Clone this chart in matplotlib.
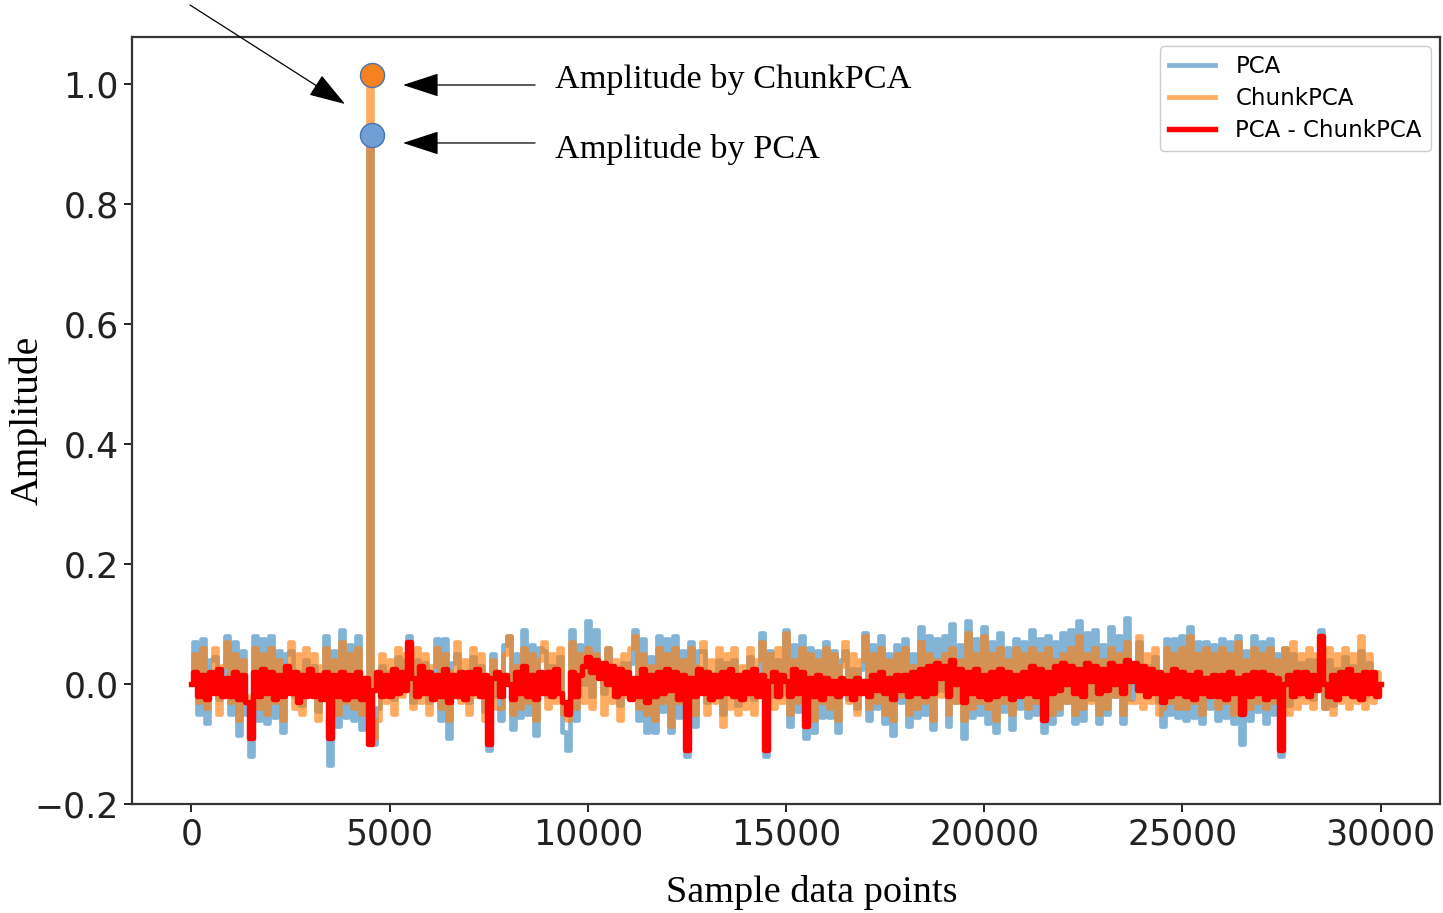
"""
Amplitude of PCA vs ChunkPCA reconstruction over the sample data points,
with the difference trace and callouts for the peak amplitudes.
"""

import numpy as np
import matplotlib
matplotlib.use("Agg")
import matplotlib.pyplot as plt

# sample index step between the values below
step = 100

# ChunkPCA amplitude, one value every 100 samples (0 .. 30000)
chunk_pca = [
    0.0, 0.05, -0.03, 0.06, -0.04, 0.02, 0.06, -0.05, 0.03, 0.07,
    -0.03, 0.05, -0.06, 0.04, -0.02, -0.03, 0.06, -0.04, 0.05, -0.05,
    0.06, -0.03, 0.04, -0.06, 0.02, 0.07, -0.04, 0.05, -0.05, 0.06,
    -0.02, 0.05, -0.06, 0.03, 0.06, -0.045, 0.04, -0.05, 0.07, -0.03,
    0.05, -0.04, 0.06, -0.05, 0.0, 1.015, -0.09, -0.06, 0.05, -0.03,
    0.04, -0.05, 0.06, -0.02, 0.05, 0.01, -0.04, 0.06, -0.03, 0.05,
    -0.05, 0.03, 0.06, -0.04, 0.05, -0.06, 0.02, 0.07, -0.03, 0.04,
    -0.05, 0.06, -0.02, 0.05, -0.06, -0.01, 0.04, -0.04, -0.04, 0.05,
    0.08, -0.05, 0.03, -0.04, 0.06, -0.03, 0.05, -0.06, 0.04, 0.07,
    -0.04, 0.05, -0.03, 0.06, -0.05, -0.06, 0.07, -0.04, 0.05, -0.03,
    0.06, -0.04, 0.05, 0.02, -0.05, 0.06, -0.03, 0.04, -0.06, 0.05,
    -0.02, 0.06, 0.08, -0.04, 0.05, -0.05, 0.03, -0.06, 0.06, -0.03,
    0.05, -0.07, 0.06, -0.03, 0.04, -0.01, 0.06, -0.05, 0.03, 0.07,
    -0.05, 0.04, -0.03, 0.06, -0.07, 0.05, -0.04, 0.06, -0.05, 0.03,
    -0.04, 0.06, -0.05, 0.04, 0.07, -0.01, 0.05, -0.04, 0.06, -0.03,
    0.085, -0.05, 0.04, -0.03, 0.06, -0.02, 0.05, -0.06, 0.04, -0.03,
    0.06, -0.04, 0.05, -0.06, 0.03, 0.07, -0.03, 0.05, -0.05, 0.04,
    0.08, -0.04, 0.05, -0.03, 0.06, -0.05, 0.04, -0.06, 0.05, -0.02,
    0.06, -0.05, 0.03, -0.04, 0.07, -0.03, 0.05, -0.06, 0.04, -0.02,
    0.05, -0.05, 0.06, -0.03, 0.04, -0.06, 0.085, -0.04, 0.05, -0.03,
    0.08, -0.04, 0.05, -0.06, 0.06, -0.03, 0.04, -0.05, 0.06, -0.02,
    0.05, -0.04, 0.06, -0.03, 0.05, -0.02, 0.06, -0.05, 0.04, -0.04,
    0.05, -0.03, 0.06, -0.05, 0.08, -0.04, 0.05, -0.03, 0.06, -0.05,
    0.04, -0.04, 0.06, -0.02, 0.05, -0.05, 0.07, -0.03, -0.03, 0.08,
    -0.04, 0.05, -0.03, 0.06, -0.05, -0.04, 0.06, -0.03, 0.05, -0.04,
    0.06, -0.04, 0.08, -0.03, 0.05, -0.05, 0.06, -0.02, 0.05, -0.04,
    0.06, -0.03, 0.05, -0.05, 0.07, -0.05, 0.04, -0.04, 0.06, -0.03,
    0.05, -0.04, 0.06, -0.03, 0.04, -0.01, 0.06, -0.05, 0.07, -0.04,
    0.05, -0.03, 0.06, -0.04, 0.05, 0.01, -0.04, 0.06, -0.05, 0.05,
    -0.03, 0.06, -0.04, 0.05, -0.03, 0.08, -0.04, 0.05, -0.03, 0.02,
    0.0,
]

# PCA - ChunkPCA difference, same sampling
diff = [
    0.0, 0.02, -0.02, 0.015, -0.025, 0.02, -0.015, 0.025, -0.02, 0.01,
    -0.02, 0.02, -0.025, 0.015, -0.03, -0.09, 0.02, -0.02, 0.025, -0.015,
    0.02, -0.025, 0.015, -0.02, 0.03, -0.015, 0.02, -0.03, 0.015, -0.02,
    0.025, -0.02, 0.015, -0.025, 0.02, -0.09, 0.015, -0.02, 0.02, -0.025,
    0.015, -0.02, 0.02, -0.025, 0.01, -0.10, -0.01, 0.02, -0.02, 0.015,
    -0.02, 0.025, -0.015, 0.02, -0.01, 0.07, 0.01, -0.02, 0.03, -0.015,
    0.02, -0.025, 0.015, -0.02, 0.025, -0.03, 0.015, -0.02, 0.02, -0.025,
    0.02, -0.015, 0.025, -0.02, 0.015, -0.10, 0.01, 0.02, -0.02, 0.015,
    0.0, -0.025, 0.02, -0.015, 0.03, -0.02, 0.015, -0.025, 0.02, -0.015,
    0.02, -0.02, 0.025, -0.015, -0.03, -0.05, 0.02, -0.02, 0.015, 0.03,
    0.045, 0.02, 0.04, 0.01, 0.035, 0.0, 0.03, -0.02, 0.025, -0.015,
    0.02, -0.025, 0.01, -0.02, 0.025, -0.03, 0.015, -0.02, 0.02, -0.015,
    0.025, -0.01, 0.02, -0.025, 0.015, -0.11, 0.01, -0.02, 0.025, -0.015,
    0.02, -0.025, 0.015, -0.02, 0.02, -0.015, 0.025, -0.02, 0.015, -0.025,
    0.02, -0.015, 0.025, -0.02, 0.015, -0.11, 0.005, 0.02, -0.02, 0.015,
    0.005, -0.02, 0.025, -0.015, 0.02, -0.07, 0.01, -0.02, 0.015, -0.025,
    0.01, -0.015, 0.005, -0.02, 0.01, -0.015, 0.005, -0.025, 0.01, -0.015,
    0.005, -0.02, 0.015, -0.01, 0.02, -0.015, 0.01, -0.025, 0.015, -0.01,
    0.015, -0.02, 0.02, -0.015, 0.025, -0.02, 0.03, -0.015, 0.035, 0.01,
    0.03, -0.02, 0.04, 0.0, 0.025, -0.03, 0.02, -0.015, 0.025, -0.02,
    0.015, -0.025, 0.02, -0.02, 0.025, -0.015, 0.02, -0.025, 0.015, -0.02,
    0.02, -0.015, 0.03, -0.02, 0.025, -0.06, 0.02, -0.015, 0.03, -0.01,
    0.035, 0.0, 0.03, -0.015, 0.025, -0.02, 0.035, 0.005, 0.03, -0.015,
    0.025, -0.01, 0.035, 0.0, 0.03, -0.015, 0.04, 0.005, 0.035, -0.01,
    0.03, -0.02, 0.025, -0.015, 0.02, -0.03, 0.015, -0.02, 0.025, -0.015,
    0.02, -0.02, 0.015, -0.025, 0.02, -0.015, 0.01, -0.02, 0.015, -0.02,
    0.015, -0.025, 0.02, -0.015, 0.01, -0.05, 0.015, -0.02, 0.02, -0.015,
    0.02, -0.025, 0.015, -0.02, 0.01, -0.11, 0.0, 0.015, -0.02, 0.02,
    -0.015, 0.02, -0.02, 0.015, -0.01, 0.08, 0.0, -0.02, 0.015, -0.025,
    0.02, -0.015, 0.025, -0.02, 0.015, -0.025, 0.02, -0.015, 0.02, -0.02,
    0.0,
]

x_ticks = [0, 5000, 10000, 15000, 20000, 25000, 30000]
y_ticks = [-0.2, 0.0, 0.2, 0.4, 0.6, 0.8, 1.0]

chunk_pca = np.array(chunk_pca)
diff = np.array(diff)
pca = chunk_pca + diff
samples = np.arange(len(chunk_pca)) * step

serif = ["Liberation Serif", "DejaVu Serif"]

fig = plt.figure(figsize=(14.43, 9.13), dpi=100)
ax = fig.add_axes([0.0915, 0.1194, 0.9064, 0.8401])

ax.plot(samples, pca, color="#1f77b4", alpha=0.55, lw=3.4,
        drawstyle="steps-mid", label="PCA")
ax.plot(samples, chunk_pca, color="#ff7f0e", alpha=0.65, lw=3.4,
        drawstyle="steps-mid", label="ChunkPCA")
ax.plot(samples, diff, color="red", lw=3.9, drawstyle="steps-mid",
        label="PCA - ChunkPCA")

ax.set_xlim(-1500, 31500)
ax.set_ylim(-0.2, 1.078)
ax.set_xticks(x_ticks)
ax.set_yticks(y_ticks)
ax.tick_params(labelsize=25, length=6, width=1.4, colors="#222222")
for sp in ax.spines.values():
    sp.set_linewidth(1.6)
    sp.set_color("#333333")

ax.set_xlabel("Sample data points", fontsize=27.5, family=serif, va="center")
ax.xaxis.set_label_coords(0.52, -0.116)
ax.set_ylabel("Amplitude", fontsize=28.5, family=serif, va="center")
ax.yaxis.set_label_coords(-0.0795, 0.5)

leg = ax.legend(loc="upper right", fontsize=16.5, handlelength=2.0,
                handletextpad=0.9, labelspacing=0.38, borderaxespad=0.4,
                framealpha=1.0, edgecolor="#cccccc")

# peak markers taken from the data
peak = int(np.argmax(chunk_pca))
ax.scatter([samples[peak] + 50], [chunk_pca[peak]], s=300, color="#f5821f",
           edgecolors="#4a72b0", linewidths=1.0, zorder=5, clip_on=False)
ax.scatter([samples[peak] + 50], [pca[peak]], s=300, color="#6f9fd4",
           edgecolors="#4a72b0", linewidths=1.0, zorder=5, clip_on=False)

arrow = dict(arrowstyle="-|>,head_length=2.3,head_width=0.75", color="black",
             lw=0.9, mutation_scale=10, shrinkA=0, shrinkB=0)
fig_arrows = [
    ((0.3708, 0.9069), (0.2793, 0.9069)),
    ((0.3708, 0.8434), (0.2793, 0.8434)),
    ((0.1317, 0.9945), (0.2391, 0.8861)),
]
for tail, tip in fig_arrows:
    fig.add_artist(matplotlib.patches.FancyArrowPatch(
        tail, tip, transform=fig.transFigure, **arrow))

fig.text(0.3846, 0.9124, "Amplitude by ChunkPCA", fontsize=24.7,
         family=serif, va="center")
fig.text(0.3846, 0.8368, "Amplitude by PCA", fontsize=24.7,
         family=serif, va="center")

fig.savefig("out.png", dpi=100)
